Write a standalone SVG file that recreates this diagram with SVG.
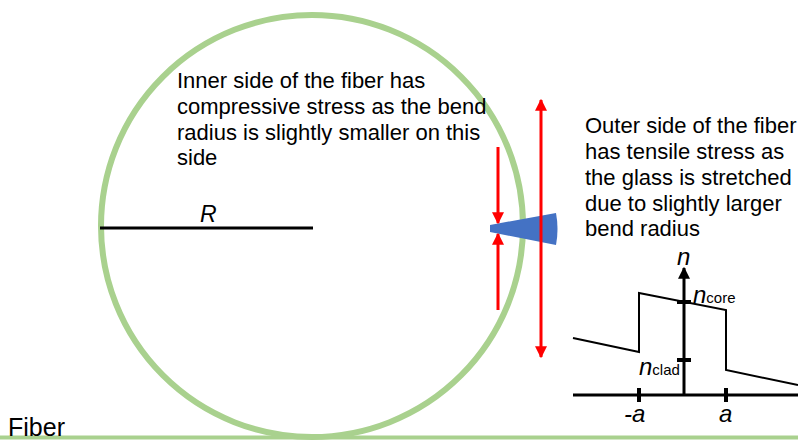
<svg xmlns="http://www.w3.org/2000/svg" width="798" height="440" viewBox="0 0 798 440">
<defs>
<marker id="ah" viewBox="0 0 10 10" refX="9" refY="5" markerWidth="4" markerHeight="4" orient="auto-start-reverse" markerUnits="strokeWidth">
<path d="M0,0 L10,5 L0,10 z" fill="#FF0000"/>
</marker>
<marker id="bh" viewBox="0 0 10 10" refX="9" refY="5" markerWidth="4" markerHeight="4" orient="auto" markerUnits="strokeWidth">
<path d="M0,0 L10,5 L0,10 z" fill="#000"/>
</marker>
<style>
.t{font-family:"Liberation Sans",Arial,sans-serif;font-size:22px;fill:#000}
.i{font-style:italic}
.g{font-size:24px}
.sub{font-style:normal;font-size:15px}
.red{stroke:#FF0000;stroke-width:3;fill:none}
.blk{stroke:#000;stroke-width:3;fill:none}
</style>
</defs>
<rect width="798" height="440" fill="#fff"/>
<g id="fiber-circle">
<circle cx="312" cy="226" r="211" fill="none" stroke="#A9D18E" stroke-width="6"/>
</g>
<g id="ground">
<line x1="0" y1="437.5" x2="798" y2="437.5" stroke="#A9D18E" stroke-width="4"/>
<text class="t" x="8" y="436" style="font-size:25px">Fiber</text>
</g>
<g id="radius">
<line x1="100" y1="228" x2="313" y2="228" class="blk"/>
<text class="t i" x="200" y="222" style="font-size:23px">R</text>
</g>
<g id="inner-text">
<text class="t" x="177" y="88">Inner side of the fiber has</text>
<text class="t" x="177" y="114">compressive stress as the bend</text>
<text class="t" x="177" y="140">radius is slightly smaller on this</text>
<text class="t" x="177" y="165">side</text>
</g>
<g id="outer-text">
<text class="t" x="585" y="133">Outer side of the fiber</text>
<text class="t" x="585" y="159">has tensile stress as</text>
<text class="t" x="585" y="185">the glass is stretched</text>
<text class="t" x="585" y="211">due to slightly larger</text>
<text class="t" x="585" y="236">bend radius</text>
</g>
<g id="wedge">
<path d="M490,225 L556,213 Q559,229 556,245 L490,232 z" fill="#4472C4"/>
</g>
<g id="connectors">
<line x1="498" y1="147" x2="498" y2="223" class="red" marker-end="url(#ah)"/>
<line x1="498" y1="310" x2="498" y2="234" class="red" marker-end="url(#ah)"/>
<line x1="541" y1="100" x2="541" y2="357" class="red" marker-start="url(#ah)" marker-end="url(#ah)"/>
</g>
<g id="profile-graph">
<line x1="573" y1="395" x2="798" y2="395" class="blk"/>
<line x1="684" y1="395" x2="684" y2="268" class="blk" marker-end="url(#bh)"/>
<line x1="639" y1="388" x2="639" y2="402" stroke="#000" stroke-width="4"/>
<line x1="726" y1="388" x2="726" y2="402" stroke="#000" stroke-width="4"/>
<line x1="677" y1="302" x2="691" y2="302" stroke="#000" stroke-width="4"/>
<line x1="677" y1="360" x2="691" y2="360" stroke="#000" stroke-width="4"/>
<polyline points="573,338 639,352 639,293 726,310 726,370 798,385" fill="none" stroke="#000" stroke-width="2"/>
<text class="t i g" x="677" y="265">n</text>
<text class="t i g" x="693" y="303">n<tspan class="sub">core</tspan></text>
<text class="t i g" x="639" y="375">n<tspan class="sub">clad</tspan></text>
<text class="t i g" x="624" y="422">-a</text>
<text class="t i g" x="719" y="422">a</text>
</g>
</svg>
